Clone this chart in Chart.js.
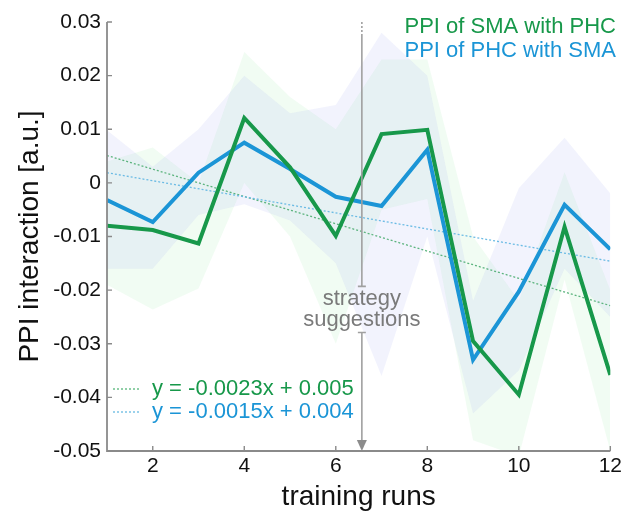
<!DOCTYPE html>
<html lang="en">
<head>
<meta charset="UTF-8">
<title>PPI interaction</title>
<script src="https://cdn.jsdelivr.net/npm/chart.js"></script>
<style>
  html, body { margin: 0; padding: 0; background: #fff; }
  #wrap { width: 625px; height: 515px; position: relative; }
</style>
</head>
<body>
<div id="wrap"><canvas id="ppiChart"></canvas></div>
<script>
// data
const runs = [1, 2, 3, 4, 5, 6, 7, 8, 9, 10, 11, 12];
const smaMean  = [-0.0080, -0.0088, -0.0113, 0.0121, 0.0029, -0.0099, 0.0091, 0.0099, -0.0295, -0.0395, -0.0082, -0.0358];
const smaUpper = [0.0040, 0.0066, 0.0000, 0.0244, 0.0160, 0.0100, 0.0230, 0.0230, -0.0100, -0.0220, 0.0020, -0.0200];
const smaLower = [-0.0190, -0.0236, -0.0197, 0.0000, -0.0100, -0.0300, -0.0050, -0.0030, -0.0480, -0.0510, -0.0180, -0.0500];
const phcMean  = [-0.0032, -0.0073, 0.0019, 0.0075, 0.0026, -0.0026, -0.0043, 0.0062, -0.0330, -0.0203, -0.0041, -0.0124];
const phcUpper = [0.0098, 0.0030, 0.0100, 0.0200, 0.0130, 0.0145, 0.0280, 0.0200, -0.0220, -0.0010, 0.0084, -0.0020];
const phcLower = [-0.0160, -0.0160, -0.0060, -0.0040, -0.0070, -0.0150, -0.0360, -0.0100, -0.0430, -0.0350, -0.0160, -0.0250];

// fitted trend lines, endpoints at first and last run
const trendRuns = [1, 12];
const smaTrend = [0.0051, -0.0229];
const phcTrend = [0.0019, -0.0146];

const seriesNames = ['PPI of SMA with PHC', 'PPI of PHC with SMA'];
const trendLabels = ['y = -0.0023x + 0.005', 'y = -0.0015x + 0.004'];
const xTickValues = [2, 4, 6, 8, 10, 12];
const markerRun = 6.57;
const markerLabel = ['strategy', 'suggestions'];

const GREEN = '#17984a';
const BLUE = '#1b95d6';
const GRAY = '#8a8a8a';
const FONT = '"Liberation Sans", Arial, sans-serif';

const pts = (xs, ys) => xs.map((x, i) => ({ x: x, y: ys[i] }));

// axes with inward ticks, marker arrow and the two text legends
const decor = {
    id: 'decor',
    afterDatasetsDraw(chart) {
        const ctx = chart.ctx;
        const xs = chart.scales.x, ys = chart.scales.y;
        const area = chart.chartArea;
        ctx.save();

        // spines
        ctx.strokeStyle = GRAY;
        ctx.lineWidth = 1.8;
        ctx.beginPath();
        ctx.moveTo(area.left, area.top);
        ctx.lineTo(area.left, area.bottom);
        ctx.lineTo(area.right, area.bottom);
        ctx.stroke();

        ctx.lineWidth = 1.4;
        ctx.beginPath();
        ys.ticks.forEach(t => {
            const py = ys.getPixelForValue(t.value);
            ctx.moveTo(area.left, py);
            ctx.lineTo(area.left + 5, py);
        });
        xTickValues.forEach(v => {
            const px = xs.getPixelForValue(v);
            ctx.moveTo(px, area.bottom);
            ctx.lineTo(px, area.bottom - 5);
        });
        ctx.stroke();

        // strategy suggestions marker
        const mx = xs.getPixelForValue(markerRun);
        const gapTop = ys.getPixelForValue(-0.0193);
        const gapBot = ys.getPixelForValue(-0.0279);
        ctx.strokeStyle = '#a0a0a0';
        ctx.lineWidth = 1.6;
        ctx.setLineDash([2, 2]);
        ctx.beginPath();
        ctx.moveTo(mx, area.top);
        ctx.lineTo(mx, area.top + 14);
        ctx.stroke();
        ctx.setLineDash([]);
        ctx.beginPath();
        ctx.moveTo(mx, area.top + 14);
        ctx.lineTo(mx, gapTop);
        ctx.moveTo(mx - 4, gapTop);
        ctx.lineTo(mx + 4, gapTop);
        ctx.moveTo(mx - 4, gapBot);
        ctx.lineTo(mx + 4, gapBot);
        ctx.moveTo(mx, gapBot);
        ctx.lineTo(mx, area.bottom - 9);
        ctx.stroke();
        ctx.fillStyle = '#8c8c8c';
        ctx.beginPath();
        ctx.moveTo(mx - 5, area.bottom - 11);
        ctx.lineTo(mx + 5, area.bottom - 11);
        ctx.lineTo(mx, area.bottom);
        ctx.closePath();
        ctx.fill();

        ctx.fillStyle = '#7a7a7a';
        ctx.font = '22px ' + FONT;
        ctx.textAlign = 'center';
        ctx.textBaseline = 'middle';
        ctx.fillText(markerLabel[0], mx, gapTop + 13);
        ctx.fillText(markerLabel[1], mx, gapTop + 34);

        // series legend, top right
        ctx.font = '22px ' + FONT;
        ctx.textAlign = 'right';
        ctx.fillStyle = GREEN;
        ctx.fillText(seriesNames[0], 616, 27);
        ctx.fillStyle = BLUE;
        ctx.fillText(seriesNames[1], 616, 51);

        // trend legend, bottom left
        const rows = [[GREEN, '#6cc08a', 389], [BLUE, '#7cc3e6', 412]];
        rows.forEach((r, i) => {
            ctx.strokeStyle = r[1];
            ctx.lineWidth = 1.4;
            ctx.setLineDash([2, 2]);
            ctx.beginPath();
            ctx.moveTo(113, r[2]);
            ctx.lineTo(141, r[2]);
            ctx.stroke();
            ctx.setLineDash([]);
            ctx.fillStyle = r[0];
            ctx.textAlign = 'left';
            ctx.fillText(trendLabels[i], 152, r[2]);
        });
        ctx.restore();
    }
};

const band = (data, color, fill, order) => ({
    data: data, fill: fill, backgroundColor: color, borderWidth: 0,
    pointRadius: 0, tension: 0, order: order
});

new Chart(document.getElementById('ppiChart'), {
    type: 'line',
    data: {
        datasets: [
            band(pts(runs, smaLower), 'rgba(120,230,140,0.10)', false, 7),
            band(pts(runs, smaUpper), 'rgba(120,230,140,0.10)', '-1', 6),
            band(pts(runs, phcLower), 'rgba(150,160,240,0.12)', false, 5),
            band(pts(runs, phcUpper), 'rgba(150,160,240,0.12)', '-1', 4),
            { data: pts(trendRuns, smaTrend), borderColor: '#5cb47e', borderWidth: 1.3, borderDash: [2, 2],
              pointRadius: 0, fill: false, order: 3 },
            { data: pts(trendRuns, phcTrend), borderColor: '#6bbbe4', borderWidth: 1.3, borderDash: [2, 2],
              pointRadius: 0, fill: false, order: 2 },
            { data: pts(runs, phcMean), borderColor: BLUE, borderWidth: 4, pointRadius: 0, tension: 0,
              fill: false, borderJoinStyle: 'miter', order: 1 },
            { data: pts(runs, smaMean), borderColor: GREEN, borderWidth: 4, pointRadius: 0, tension: 0,
              fill: false, borderJoinStyle: 'miter', order: 0 }
        ]
    },
    options: {
        responsive: true,
        maintainAspectRatio: false,
        animation: false,
        layout: { padding: { left: 0, right: 13, top: 22, bottom: 0 } },
        plugins: {
            legend: { display: false },
            tooltip: { enabled: false }
        },
        scales: {
            x: {
                type: 'linear',
                min: 1,
                max: 12,
                afterBuildTicks: s => { s.ticks = xTickValues.map(v => ({ value: v })); },
                afterFit: s => { s.height = 64; },
                grid: { display: false, drawTicks: false },
                border: { display: false },
                ticks: { color: '#111', font: { family: FONT, size: 21 }, padding: 3 },
                title: { display: true, text: 'training runs', color: '#111',
                         font: { family: FONT, size: 28 }, padding: { top: 0, bottom: 1 } }
            },
            y: {
                min: -0.05,
                max: 0.03,
                afterFit: s => { s.width = 107; },
                grid: { display: false, drawTicks: false },
                border: { display: false },
                ticks: {
                    stepSize: 0.01,
                    color: '#111',
                    font: { family: FONT, size: 21 },
                    padding: 6,
                    callback: v => Math.abs(v) < 1e-9 ? '0' : v.toFixed(2)
                },
                title: { display: true, text: 'PPI interaction [a.u.]', color: '#111',
                         font: { family: FONT, size: 28 }, padding: { top: 13, bottom: 0 } }
            }
        }
    },
    plugins: [decor]
});
</script>
</body>
</html>
